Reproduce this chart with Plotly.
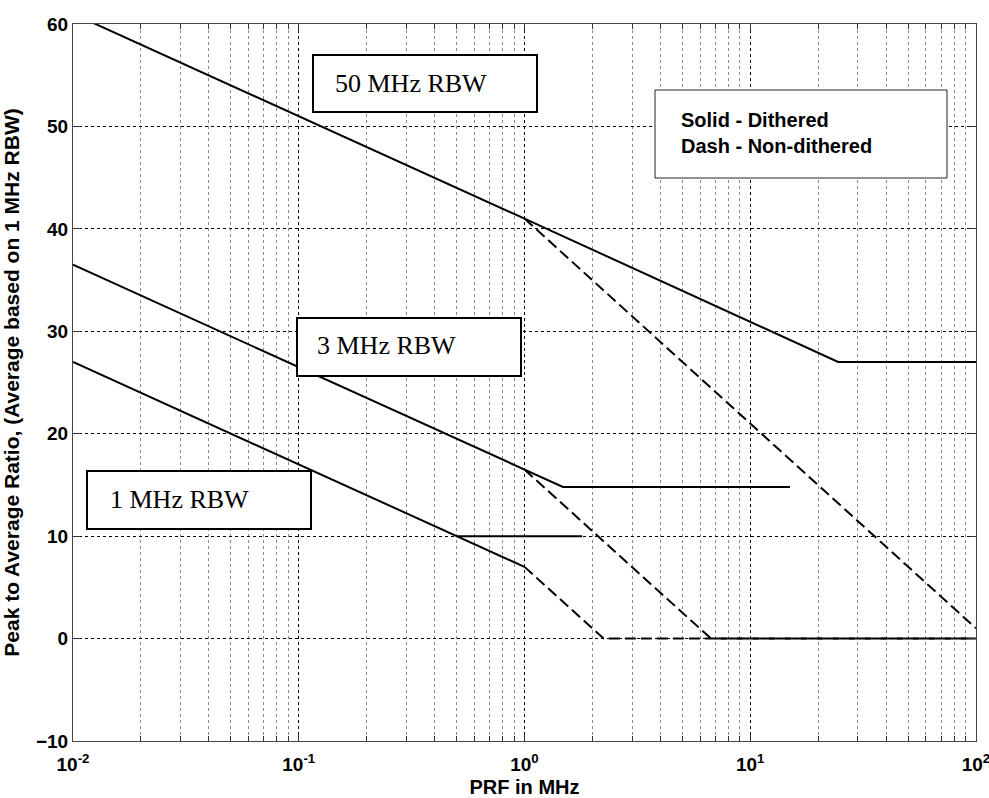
import plotly.graph_objects as go

# ---- data ----
x50_solid = [0.01, 1, 24.5, 100]
y50_solid = [61.0, 41.0, 27.0, 27.0]
x50_dash = [1, 100]
y50_dash = [41.0, 1.0]

x3_solid = [0.01, 1, 1.48, 15]
y3_solid = [36.5, 16.5, 14.8, 14.8]
x3_dash = [1, 6.7, 100]
y3_dash = [16.5, 0.0, 0.0]

x1_solid = [0.01, 1]
y1_solid = [27.0, 7.0]
x1_flat = [0.5, 1.8]
y1_flat = [10.0, 10.0]
x1_dash = [1, 2.24, 100]
y1_dash = [7.0, 0.0, 0.0]

xtick_vals = [0.01, 0.1, 1, 10, 100]
xtick_text = ["10<sup>-2</sup>", "10<sup>-1</sup>", "10<sup>0</sup>", "10<sup>1</sup>", "10<sup>2</sup>"]
ytick_vals = [-10, 0, 10, 20, 30, 40, 50, 60]
minor_vals = [k * 10.0 ** d for d in range(-2, 2) for k in range(2, 10)]

W, H = 989, 798
L, R, T, B = 73, 976, 24, 741


def px(xp):
    return (xp - L) / (R - L)


def py(yp):
    return (B - yp) / (B - T)


fig = go.Figure()
solid = dict(color="black", width=2)
dashed = dict(color="black", width=2, dash="11px,5px")
for xs, ys, ln in [
    (x50_solid, y50_solid, solid), (x50_dash, y50_dash, dashed),
    (x3_solid, y3_solid, solid), (x3_dash, y3_dash, dashed),
    (x1_solid, y1_solid, solid), (x1_flat, y1_flat, solid), (x1_dash, y1_dash, dashed),
]:
    fig.add_trace(go.Scatter(x=xs, y=ys, mode="lines", line=ln, showlegend=False, hoverinfo="skip"))

axis_font = dict(family="Liberation Sans, Arial", size=19, color="black", weight="bold")
xtitle_font = dict(family="Liberation Sans, Arial", size=20, color="black", weight="bold")
ytitle_font = dict(family="Liberation Sans, Arial", size=21, color="black", weight="bold")

fig.update_xaxes(
    type="log", range=[-2, 2], tickvals=xtick_vals, ticktext=xtick_text,
    ticks="inside", ticklen=7, tickcolor="#333", showline=True, linecolor="#444", linewidth=1,
    mirror="allticks", showgrid=True, gridcolor="black", griddash="dot", gridwidth=1,
    tickfont=axis_font, zeroline=False, ticklabelstandoff=6, ticklabeloverflow="allow",
    minor=dict(tickvals=minor_vals, ticks="inside", ticklen=5, tickcolor="#333", showgrid=True,
               gridcolor="#8a8a8a", griddash="dot", gridwidth=1),
    title=dict(text="PRF in MHz", font=xtitle_font, standoff=12), automargin=False,
)
fig.update_yaxes(
    range=[-10, 60], tickvals=ytick_vals,
    ticks="inside", ticklen=7, tickcolor="#333", showline=True, linecolor="#444", linewidth=1,
    mirror="allticks", showgrid=True, gridcolor="black", griddash="dot", gridwidth=1,
    tickfont=axis_font, zeroline=False, ticklabeloverflow="allow",
    title=dict(text="Peak to Average Ratio, (Average based on 1 MHz RBW)", font=ytitle_font, standoff=14),
    automargin=False,
)

shapes = []
annotations = []
boxes = [
    # (left, top, right, bottom, text_x, text_y, text)
    (313, 55, 537, 112, 333, 83, "50 MHz RBW"),
    (297, 318, 521, 376, 315, 346, "3 MHz RBW"),
    (87, 471, 311, 529, 108, 499, "1 MHz RBW"),
]
for l, t, r, b, tx, ty, txt in boxes:
    shapes.append(dict(type="rect", xref="paper", yref="paper", x0=px(l), x1=px(r), y0=py(b), y1=py(t),
                       line=dict(color="black", width=2), fillcolor="white", layer="above"))
    annotations.append(dict(xref="paper", yref="paper", x=px(tx), y=py(ty), xanchor="left", yanchor="middle",
                            text=txt, showarrow=False,
                            font=dict(family="Liberation Serif, Times New Roman", size=26, color="black")))

# legend-like box
shapes.append(dict(type="rect", xref="paper", yref="paper", x0=px(655), x1=px(947), y0=py(178), y1=py(90),
                   line=dict(color="#222", width=1), fillcolor="white", layer="above"))
annotations.append(dict(xref="paper", yref="paper", x=px(679), y=py(133), xanchor="left", yanchor="middle",
                        align="left", text="Solid - Dithered<br>Dash - Non-dithered", showarrow=False,
                        font=dict(family="Liberation Sans, Arial", size=20, color="black", weight="bold")))

fig.update_layout(
    width=W, height=H, margin=dict(l=L, r=W - R, t=T, b=H - B),
    paper_bgcolor="white", plot_bgcolor="white",
    shapes=shapes, annotations=annotations, showlegend=False,
)

fig.write_html("out.html", config={"displayModeBar": False},
               post_script="document.body.style.margin='0';document.body.style.overflow='hidden';")
